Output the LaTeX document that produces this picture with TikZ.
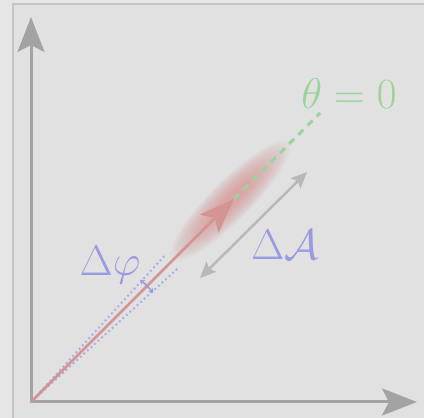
\RequirePackage{fix-cm}
\documentclass[tikz,border=0pt]{standalone}
\usetikzlibrary{arrows.meta,calc}
\definecolor{outerbg}{HTML}{E6E6E6}
\definecolor{innerbg}{HTML}{E1E1E1}
\definecolor{framec}{HTML}{C4C4C4}
\definecolor{axisc}{HTML}{A3A3A3}
\definecolor{redc}{HTML}{D49494}
\definecolor{bloomc}{HTML}{D98C8C}
\definecolor{greenc}{HTML}{9BD49B}
\definecolor{bluec}{HTML}{9A9AE0}
\definecolor{dotc}{HTML}{AEAEE8}
\definecolor{grayarr}{HTML}{B8B8B8}
\tikzset{
  axisline/.style={draw=axisc, line width=3, -{Stealth[length=35,width=27,inset=7]}},
  vecline/.style={draw=redc, line width=2.5, -{Stealth[length=35,width=26,inset=8]}},
  zeroline/.style={draw=greenc, line width=3, dash pattern=on 7 off 6},
  dotline/.style={draw=dotc, line width=2.8, line cap=round, dash pattern=on 0 off 4.8},
  spanarrow/.style={draw=grayarr, line width=2.5, {Stealth[length=16,width=14,inset=3]}-{Stealth[length=16,width=14,inset=3]}},
  anglearc/.style={draw=bluec, line width=1.6, {Stealth[length=4,width=6]}-{Stealth[length=4,width=6]}},
  biglabel/.style={font=\fontsize{43}{45}\selectfont, inner sep=0},
}
\begin{document}
\begin{tikzpicture}[x=1pt,y=1pt]
\useasboundingbox (0,0) rectangle (424,418);
\fill[outerbg] (0,0) rectangle (424,418);
\fill[innerbg] (13,-5) rectangle (430,414);
\draw[framec, line width=2] (13,-5) -- (13,414) -- (430,414);

\coordinate (O) at (31,16);
\coordinate (ytip) at (31,401);
\coordinate (xtip) at (417,16);
\coordinate (tip) at (234,219);
\coordinate (gend) at (320,305);
\coordinate (d1) at ($(O)+(47.6:201)$);
\coordinate (d2) at ($(O)+(42.3:201)$);
\coordinate (a1) at ($(O)+(48.2:164)$);
\coordinate (a2) at ($(O)+(41.8:164)$);
\coordinate (s1) at (200,140);
\coordinate (s2) at (307,246);

% blurred glow
\begin{scope}[shift={(230,217)}, rotate=45]
  \foreach \i in {1,...,22} {
    \fill[bloomc, opacity=0.045] (0,0) ellipse ({86-2.7*\i} and {21-0.75*\i});
  }
\end{scope}

% axes
\draw[axisline] (O) -- (ytip);
\draw[axisline] (O) -- (xtip);

% dotted bounds
\draw[dotline] (O) -- (d1);
\draw[dotline] (O) -- (d2);

% vector
\draw[vecline] (O) -- (tip);
\draw[zeroline] (tip) -- (gend);

% angle arc
\draw[anglearc] (a1) arc (48.2:41.8:164);

% span arrow
\draw[spanarrow] (s1) -- (s2);

% labels
\node[biglabel, text=bluec] (lphi) at (110,153) {$\Delta\varphi$};
\node[biglabel, text=bluec] (lA) at (285,173) {$\Delta\mathcal{A}$};
\node[biglabel, text=greenc] (lth) at (349,324) {$\theta=0$};
\end{tikzpicture}
\end{document}
